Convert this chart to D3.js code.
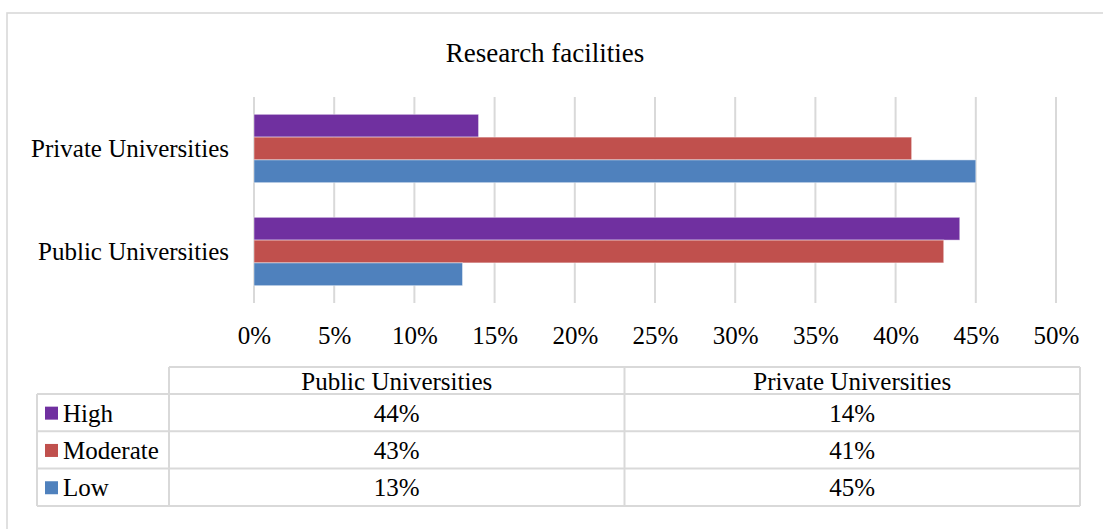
<!DOCTYPE html>
<html>
<head>
<meta charset="utf-8">
<script src="https://cdn.jsdelivr.net/npm/d3@7"></script>
<style>
  html, body { margin: 0; padding: 0; background: #fff; }
  svg { display: block; }
  text { font-family: "Liberation Serif", "Times New Roman", serif; fill: #000; }
</style>
</head>
<body>
<svg id="chart" width="1103" height="529"></svg>
<script>
// Categories in data-table column order
const categories = ["Public Universities", "Private Universities"];
// Series names, top to bottom inside each bar group
const seriesNames = ["High", "Moderate", "Low"];
// Share of responses per category
const high = [0.44, 0.14];
const moderate = [0.43, 0.41];
const low = [0.13, 0.45];
const seriesColors = ["#7030A0", "#C0504D", "#4F81BD"];
const tickValues = [0, 0.05, 0.10, 0.15, 0.20, 0.25, 0.30, 0.35, 0.40, 0.45, 0.50];
const titleText = "Research facilities";

const seriesValues = [high, moderate, low];
const pct = d3.format(".0%");
const gridColor = "#d9d9d9";

const svg = d3.select("#chart");
const W = 1103, H = 529;

svg.append("rect").attr("width", W).attr("height", H).attr("fill", "#fff");
// Chart area frame
svg.append("rect")
  .attr("x", 7).attr("y", 13).attr("width", W + 10).attr("height", H + 10)
  .attr("fill", "none").attr("stroke", gridColor).attr("stroke-width", 1.6);

// Title
svg.append("text")
  .attr("x", 545).attr("y", 62)
  .attr("text-anchor", "middle")
  .style("font-size", "27px")
  .text(titleText);

// Scales
const plot = { left: 254, right: 1056, top: 97, bottom: 303 };
const x = d3.scaleLinear().domain([0, 0.5]).range([plot.left, plot.right]);
// Category axis drawn bottom-up: last category at the top
const y = d3.scaleBand()
  .domain(categories.slice().reverse())
  .range([plot.top, plot.bottom])
  .paddingInner(0).paddingOuter(0);
const ySeries = d3.scaleBand()
  .domain(seriesNames)
  .range([0, y.bandwidth()])
  .paddingInner(0).paddingOuter(0.76);

// Vertical gridlines
svg.append("g").selectAll("line")
  .data(tickValues)
  .join("line")
  .attr("x1", d => x(d)).attr("x2", d => x(d))
  .attr("y1", plot.top).attr("y2", plot.bottom)
  .attr("stroke", gridColor).attr("stroke-width", 2);

// Bars
const rows = [];
categories.forEach((c, ci) => {
  seriesNames.forEach((s, si) => {
    rows.push({ cat: c, series: s, value: seriesValues[si][ci], color: seriesColors[si] });
  });
});
svg.append("g").selectAll("rect")
  .data(rows)
  .join("rect")
  .attr("x", x(0))
  .attr("y", d => y(d.cat) + ySeries(d.series))
  .attr("width", d => x(d.value) - x(0))
  .attr("height", ySeries.bandwidth())
  .attr("fill", d => d.color)
  .attr("stroke", "#ffffff").attr("stroke-opacity", 0.45).attr("stroke-width", 1);

// Value axis labels
const xAxis = d3.axisBottom(x).tickValues(tickValues).tickFormat(pct).tickSize(0).tickPadding(0);
const gx = svg.append("g").attr("transform", `translate(0,${plot.bottom})`).call(xAxis);
gx.select(".domain").remove();
gx.selectAll("text")
  .attr("y", 41).attr("dy", null)
  .style("font-size", "25px")
  .style("font-family", "'Liberation Serif', serif")
  .attr("fill", "#000");

// Category axis labels
const yAxis = d3.axisLeft(y).tickSize(0).tickPadding(0);
const gy = svg.append("g").attr("transform", `translate(229,0)`).call(yAxis);
gy.select(".domain").remove();
gy.selectAll("text")
  .attr("dy", "0.35em")
  .style("font-size", "25px")
  .style("font-family", "'Liberation Serif', serif")
  .attr("fill", "#000");

// Data table
const table = { left: 37, keyWidth: 132, colWidth: 455.5, top: 367, headerH: 27, rowH: 37.3 };
const colX = i => table.left + table.keyWidth + i * table.colWidth;
const rowY = i => table.top + table.headerH + i * table.rowH;
const tbl = svg.append("g");
const line = (x1, y1, x2, y2) => tbl.append("line")
  .attr("x1", x1).attr("y1", y1).attr("x2", x2).attr("y2", y2)
  .attr("stroke", gridColor).attr("stroke-width", 2);

const tableRight = colX(categories.length);
const tableBottom = rowY(seriesNames.length);
// header top and header column separators
line(colX(0), table.top, tableRight, table.top);
for (let i = 0; i <= categories.length; i++) line(colX(i), table.top, colX(i), tableBottom);
// row lines
for (let r = 0; r <= seriesNames.length; r++) line(table.left, rowY(r), tableRight, rowY(r));
line(table.left, rowY(0), table.left, tableBottom);

// header text
tbl.selectAll("text.head")
  .data(categories)
  .join("text")
  .attr("class", "head")
  .attr("x", (d, i) => colX(i) + table.colWidth / 2)
  .attr("y", table.top + table.headerH / 2 + 9)
  .attr("text-anchor", "middle")
  .style("font-size", "25px")
  .text(d => d);

// legend keys and names
seriesNames.forEach((s, si) => {
  const cy = rowY(si) + table.rowH / 2;
  tbl.append("rect")
    .attr("x", table.left + 8).attr("y", cy - 6)
    .attr("width", 13).attr("height", 13)
    .attr("fill", seriesColors[si]);
  tbl.append("text")
    .attr("x", table.left + 26).attr("y", cy + 9)
    .style("font-size", "25px")
    .text(s);
  categories.forEach((c, ci) => {
    tbl.append("text")
      .attr("x", colX(ci) + table.colWidth / 2).attr("y", cy + 9)
      .attr("text-anchor", "middle")
      .style("font-size", "25px")
      .text(pct(seriesValues[si][ci]));
  });
});
</script>
</body>
</html>
